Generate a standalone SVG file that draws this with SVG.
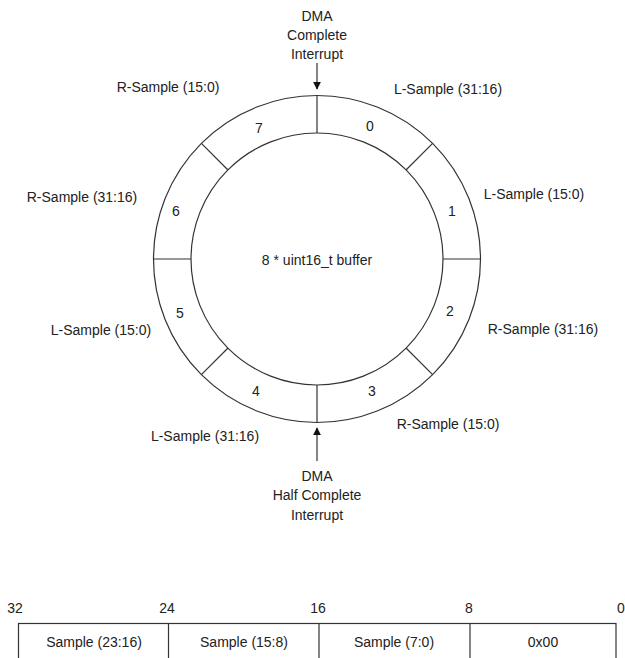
<svg xmlns="http://www.w3.org/2000/svg" width="625" height="658" viewBox="0 0 625 658">
<style>
text{font-family:"Liberation Sans",Arial,sans-serif;font-size:14px;fill:#222;text-anchor:middle;dominant-baseline:central}
.ln{stroke:#333;stroke-width:1.2;fill:none}
</style>
<defs>
<marker id="ah" viewBox="0 0 10 10" refX="9" refY="5" markerWidth="8" markerHeight="8" markerUnits="userSpaceOnUse" orient="auto"><path d="M0,0L10,5L0,10z" fill="#111"/></marker>
</defs>
<rect width="625" height="658" fill="#fff"/>
<g id="ring">
<circle class="ln" cx="317" cy="259" r="163.5"/>
<circle class="ln" cx="317" cy="259" r="126"/>
<line class="ln" x1="317" y1="95.5" x2="317" y2="133"/>
<line class="ln" x1="317" y1="385" x2="317" y2="422.5"/>
<line class="ln" x1="153.5" y1="259" x2="191" y2="259"/>
<line class="ln" x1="443" y1="259" x2="480.5" y2="259"/>
<line class="ln" x1="406" y1="170" x2="432.6" y2="143.4"/>
<line class="ln" x1="228" y1="170" x2="201.4" y2="143.4"/>
<line class="ln" x1="406" y1="348" x2="432.6" y2="374.6"/>
<line class="ln" x1="228" y1="348" x2="201.4" y2="374.6"/>
<text x="317" y="260">8 * uint16_t buffer</text>
</g>
<g id="slots">
<text x="370" y="126">0</text>
<text x="452" y="211">1</text>
<text x="450" y="311">2</text>
<text x="372" y="391">3</text>
<text x="256" y="391">4</text>
<text x="180" y="313">5</text>
<text x="176" y="211">6</text>
<text x="259" y="128">7</text>
</g>
<g id="labels">
<text x="448" y="89">L-Sample (31:16)</text>
<text x="534" y="194">L-Sample (15:0)</text>
<text x="543" y="329">R-Sample (31:16)</text>
<text x="448" y="424">R-Sample (15:0)</text>
<text x="205" y="436">L-Sample (31:16)</text>
<text x="101" y="330">L-Sample (15:0)</text>
<text x="82" y="197">R-Sample (31:16)</text>
<text x="168" y="87">R-Sample (15:0)</text>
</g>
<g id="dma-complete">
<text x="317" y="16">DMA</text>
<text x="317" y="35">Complete</text>
<text x="317" y="54">Interrupt</text>
</g>
<g id="dma-half">
<text x="317" y="476">DMA</text>
<text x="317" y="495">Half Complete</text>
<text x="317" y="515">Interrupt</text>
</g>
<g id="connectors">
<line class="ln" x1="317" y1="63" x2="317" y2="89" stroke="#111" marker-end="url(#ah)"/>
<line class="ln" x1="317" y1="461" x2="317" y2="428" stroke="#111" marker-end="url(#ah)"/>
</g>
<g id="register">
<text x="15" y="608">32</text>
<text x="167" y="608">24</text>
<text x="318" y="608">16</text>
<text x="469" y="608">8</text>
<text x="621" y="608">0</text>
<rect class="ln" x="18.5" y="623.5" width="597.5" height="44"/>
<line class="ln" x1="168.5" y1="623.5" x2="168.5" y2="658"/>
<line class="ln" x1="319" y1="623.5" x2="319" y2="658"/>
<line class="ln" x1="470" y1="623.5" x2="470" y2="658"/>
<text x="94" y="642">Sample (23:16)</text>
<text x="244" y="642">Sample (15:8)</text>
<text x="394" y="642">Sample (7:0)</text>
<text x="543" y="642">0x00</text>
</g>
</svg>
